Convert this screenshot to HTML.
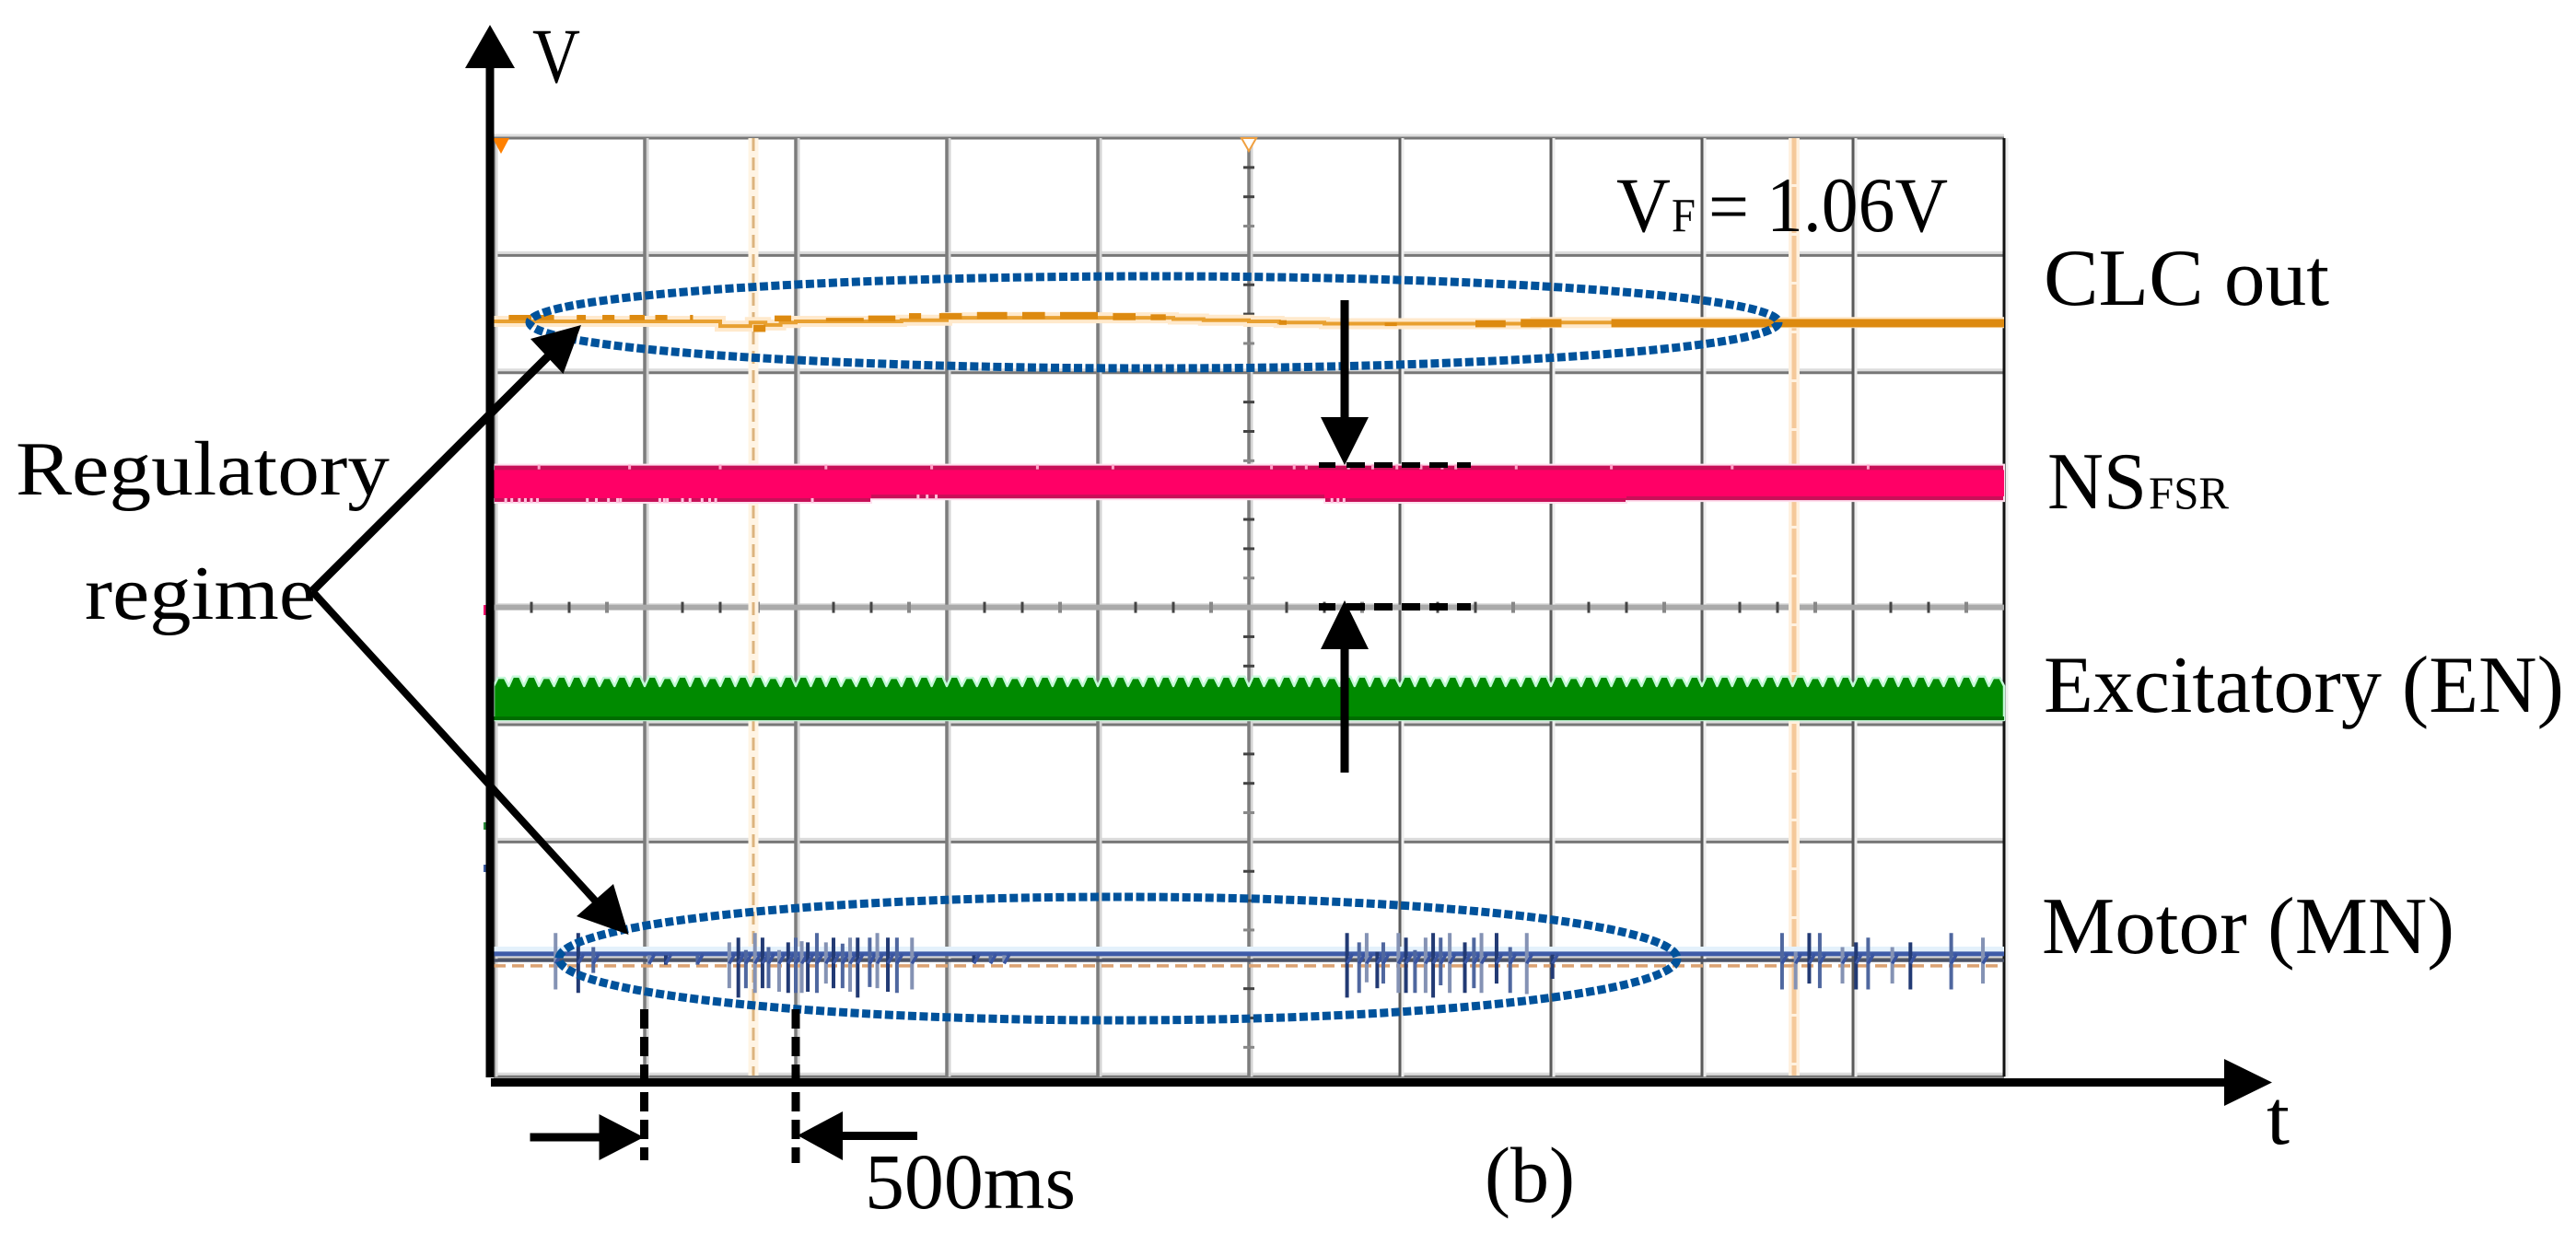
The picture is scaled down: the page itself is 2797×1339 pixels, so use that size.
<!DOCTYPE html>
<html>
<head>
<meta charset="utf-8">
<style>
html,body{margin:0;padding:0;background:#fff;}
svg{display:block;}
text{font-family:"Liberation Serif",serif;fill:#000;}
</style>
</head>
<body>
<svg id="chart" xmlns="http://www.w3.org/2000/svg" width="2797" height="1339" viewBox="0 0 2797 1339">
<rect width="2797" height="1339" fill="#fff"/>
<g id="grid"></g>
<g id="cursors">
<line x1="818" y1="150" x2="818" y2="1168" stroke="#fff4e4" stroke-width="11"/>
<line x1="818" y1="150" x2="818" y2="1168" stroke="#dcb47e" stroke-width="3" stroke-dasharray="14 7"/>
<line x1="1948" y1="150" x2="1948" y2="1168" stroke="#fff1e0" stroke-width="12"/>
<line x1="1948" y1="150" x2="1948" y2="1168" stroke="#f5c99a" stroke-width="5" stroke-dasharray="50 3"/>
</g>
<g id="traces"></g>
<polygon points="535,150 553,150 544,167" fill="#ff8000"/>
<polygon points="1348,150 1364,150 1356,164" fill="#fff" stroke="#f0a040" stroke-width="2"/>
<rect x="525" y="657" width="4" height="11" fill="#f0106a"/>
<rect x="525" y="893" width="3" height="8" fill="#2a8a3a"/>
<rect x="525" y="939" width="3" height="8" fill="#3a5aa0"/>

<ellipse cx="1253" cy="350" rx="678" ry="50" fill="none" stroke="#00529b" stroke-width="9" stroke-dasharray="9 3.5"/>
<ellipse cx="1214" cy="1041" rx="607" ry="67" fill="none" stroke="#00529b" stroke-width="9" stroke-dasharray="9 3.5"/>

<g>
<rect x="527.5" y="60" width="9" height="1110" fill="#000"/>
<polygon points="532,27 559,74 505,74" fill="#000"/>
<rect x="533" y="1171" width="1890" height="9" fill="#000"/>
<polygon points="2415,1150 2467,1175.5 2415,1201" fill="#000"/>
</g>

<g>
<rect x="1455.5" y="326" width="9" height="130" fill="#000"/>
<polygon points="1434,453 1486,453 1460,505" fill="#000"/>
<rect x="1455.5" y="700" width="9" height="139" fill="#000"/>
<polygon points="1434,705 1486,705 1460,652" fill="#000"/>
<line x1="1432" y1="505" x2="1597" y2="505" stroke="#000" stroke-width="6" stroke-dasharray="18 12 20 10 20 10 20 10 20 10 20 10"/>
<line x1="1432" y1="659" x2="1597" y2="659" stroke="#000" stroke-width="8" stroke-dasharray="18 12 20 10 20 10 20 10 20 10 20 10"/>
</g>

<g>
<line x1="339" y1="642" x2="596" y2="386" stroke="#000" stroke-width="9"/>
<polygon points="631,353 576,368 611.5,406" fill="#000"/>
<line x1="339" y1="642" x2="648" y2="980" stroke="#000" stroke-width="8"/>
<polygon points="682.5,1015 626,995 666,960" fill="#000"/>
</g>

<g>
<line x1="699.5" y1="1096" x2="699.5" y2="1260" stroke="#000" stroke-width="9" stroke-dasharray="21 9"/>
<line x1="864" y1="1096" x2="864" y2="1263" stroke="#000" stroke-width="9" stroke-dasharray="21 9"/>
<rect x="575.5" y="1230.5" width="76" height="9" fill="#000"/>
<polygon points="650.5,1210 699,1235 650.5,1260" fill="#000"/>
<rect x="914" y="1229" width="82" height="9" fill="#000"/>
<polygon points="915,1207 866,1233 915,1260" fill="#000"/>
</g>

<g>
<text x="578" y="89" font-size="85" textLength="52" lengthAdjust="spacingAndGlyphs">V</text>
<text x="2461" y="1242" font-size="85" textLength="25" lengthAdjust="spacingAndGlyphs">t</text>
<text x="17" y="537" font-size="84" textLength="406" lengthAdjust="spacingAndGlyphs">Regulatory</text>
<text x="92" y="672" font-size="84" textLength="251" lengthAdjust="spacingAndGlyphs">regime</text>
<text x="2219" y="331" font-size="88" textLength="310" lengthAdjust="spacingAndGlyphs">CLC out</text>
<text x="2223" y="552" font-size="88" textLength="108" lengthAdjust="spacingAndGlyphs">NS</text>
<text x="2333" y="552" font-size="50" textLength="87" lengthAdjust="spacingAndGlyphs">FSR</text>
<text x="2219" y="773" font-size="88" textLength="565" lengthAdjust="spacingAndGlyphs">Excitatory (EN)</text>
<text x="2217" y="1035" font-size="88" textLength="448" lengthAdjust="spacingAndGlyphs">Motor (MN)</text>
<text x="1755" y="251" font-size="85" textLength="59" lengthAdjust="spacingAndGlyphs">V</text>
<text x="1815" y="251" font-size="52" textLength="26" lengthAdjust="spacingAndGlyphs">F</text>
<text x="1855" y="251" font-size="80" textLength="44" lengthAdjust="spacingAndGlyphs">=</text>
<text x="1918" y="251" font-size="85" textLength="197" lengthAdjust="spacingAndGlyphs">1.06V</text>
<text x="939" y="1312" font-size="86" textLength="229" lengthAdjust="spacingAndGlyphs">500ms</text>
<text x="1612" y="1305" font-size="86" textLength="98" lengthAdjust="spacingAndGlyphs">(b)</text>
</g>
</svg>

<script>
// ---- values (time in divisions; amplitude in 1/100 division) ----
const gridColumns = [0,1,2,3,4,5,6,7,8,9,10];
const gridRows = [0,1,2,3,4,5,6,7,8];

const orangeLine = [0,0,0,0,0,0,0,0,0,0,0,0,0,0,0,-4,-4,-1,-3,-1,0,0,0,0,0,0,0,1,1,1,3,3,3,3,3,3,3,3,3,3,3,3,3,3,3,2,2,1,1,1,0,0,-1,-1,-1,-2,-2,-2,-2,-2,-2,-2,-2,-2,-2,-2,-2,-2,-2,-1,-1,-1,-1,-1,-1,-1,-1,-1,-1,-1,-1,-1,-1,-1,-1,-1,-1,-1,-1,-1,-1,-1,-1,-1,-1,-1,-1,-1,-1,-1,-1];
const orangeBlockStart = [0.1,0.28,0.55,0.72,0.9,1.07,1.3,1.72,1.86,2.2,2.48,2.75,2.95,3.2,3.5,3.75,4.1,4.35,5.2,5.9,6.5,6.8,7.4,8.0];
const orangeBlockWidth = [0.15,0.12,0.06,0.08,0.1,0.08,0.02,0.08,0.11,0.25,0.18,0.08,0.15,0.2,0.15,0.25,0.15,0.1,0.05,0.08,0.2,0.27,1.0,2.0];
const orangeBlockTop = [5.5,5.5,5.5,5.5,5.5,5.5,5.5,-3,5,3,5,7,7,8,8,8,7,6,1,-1,1,2,2,2];
const orangeBlockBottom = [1,1,1,1,1,1,1,-9,0,0,0,2,2,2,2,2,1,1,-3,-4,-5,-5,-5,-5];

const pinkUpper = [16,16,16,16,16,16,16,16,16,16,16,16,16,16,16,16,16,16,16,16,16];
const pinkLower = [-16.5,-16.5,-16.5,-16.5,-16.5,-13.5,-13.5,-13.5,-13.5,-13.5,-13.5,-16.5,-16.5,-16.5,-16.5,-15,-15,-15,-15,-15,-15];
const pinkNotchesLower = [0.08,0.12,0.17,0.21,0.25,0.29,0.62,0.68,0.76,0.82,0.84,1.1,1.15,1.13,1.25,1.3,1.38,1.43,1.47,2.11,2.81,2.87,2.93,5.55,5.59,5.63];
const pinkNotchesUpper = [0.3,0.9,1.5,2.2,2.9,3.6,4.1,5.15,5.3,5.38,5.66,5.82,5.98,6.14,6.28,6.37,6.77,7.4,8.2,9.1];

const greenPeaks = [36,37,37,36,37,37,37,36,37,37,37,36,37,37,36,37,37,37,36,37,37,37,37,36,37,37,36,37,37,37,37,36,37,37,36,37,37,37,36,37,37,37,36,37,37,37,37,36,37,37,37,36,37,37,37,36,37,37,37,36,37,37,36,37,37,37,37,36,37,37,37,36,37,37,37,36,37,37,36,37,37,37,37,36,37,37,37,36,37,37,37,36,37,37,37,36,37,37,37,36];

const zeroTickDivisions = [0.25,0.5,0.75,1.25,1.5,1.75,2.25,2.5,2.75,3.25,3.5,3.75,4.25,4.5,4.75,5.25,5.5,5.75,6.25,6.5,6.75,7.25,7.5,7.75,8.25,8.5,8.75,9.25,9.5,9.75];
const centerTickDivisions = [0.25,0.5,0.75,1.25,1.5,1.75,2.25,2.5,2.75,3.25,3.5,3.75,4.25,4.5,4.75,5.25,5.5,5.75,6.25,6.5,6.75,7.25,7.5,7.75];

const motorTimes = [0.41,0.56,0.66,1.03,1.14,1.35,
 1.56,1.62,1.67,1.73,1.78,1.82,1.89,1.95,2.0,2.04,2.08,2.14,2.20,2.25,2.31,2.36,2.41,2.49,2.54,2.61,2.67,2.77,3.18,3.29,3.38,
 5.65,5.73,5.78,5.85,5.89,5.99,6.04,6.10,6.17,6.22,6.27,6.33,6.43,6.49,6.54,6.64,6.73,6.84,7.01,
 8.53,8.62,8.71,8.78,8.93,9.02,9.10,9.26,9.38,9.65,9.86];
const motorHigh = [21,21,9,2,2,2,
 13,17,6.5,21,17,9,6.5,13,17,14,13,21,13,17,12,17,17,17,21,17,17,17,2,2,2,
 21,13,21,5,13,21,17,6.5,17,21,17,21,13,17,21,21,9,21,2.6,
 21,5,21,21,9,13,17,9,13,21,17];
const motorLow = [-27,-30,-13,-6,-6,-6,
 -26,-34,-26,-30,-26,-26,-29,-30,-30,-30,-29,-30,-22,-26,-26,-29,-34,-25,-26,-29,-30,-27,-4,-4,-4,
 -34,-30,-21,-26,-22,-30,-30,-30,-30,-34,-23.5,-30,-30,-26,-30,-22,-30,-31,-18,
 -27,-27,-22,-26,-22,-27,-27,-22,-27,-27,-22];

// ---- axis functions ----
const NS = 'http://www.w3.org/2000/svg';
const xScale = t => 536 + 164 * t;
const rowScale = r => 150 + 127.4 * r;
const unit = 1.276;
const clcY = u => 349 - unit * u;
const pinkY = u => 525 - unit * u;
const greenY = u => 782 - unit * u;
const motorY = u => 1040 - unit * u;
const gridGroup = document.getElementById('grid');
const traceGroup = document.getElementById('traces');

function mk(parent, tag, attrs) {
  const el = document.createElementNS(NS, tag);
  for (const k in attrs) el.setAttribute(k, attrs[k]);
  parent.appendChild(el);
  return el;
}

// grid
gridRows.forEach(r => {
  const shade = mk(gridGroup, 'line', {x1: xScale(0), x2: xScale(10), y1: rowScale(r) - 3, y2: rowScale(r) - 3, stroke: '#dcdcdc', 'stroke-width': 3});
  
  
  const line = mk(gridGroup, 'line', {x1: xScale(0), x2: xScale(10), y1: rowScale(r), y2: rowScale(r), stroke: '#777', 'stroke-width': 3});
  
  
});
gridColumns.forEach(c => {
  const shade = mk(gridGroup, 'line', {x1: xScale(c) + 3, x2: xScale(c) + 3, y1: rowScale(0), y2: rowScale(8), stroke: c < 6 ? '#d4d4d4' : '#eeeeee', 'stroke-width': 3});
  
  
  const line = mk(gridGroup, 'line', {x1: xScale(c), x2: xScale(c), y1: rowScale(0), y2: rowScale(8), stroke: c === 10 ? '#111' : (c < 6 ? '#7c7c7c' : '#5a5a5a'), 'stroke-width': c < 6 ? 3.5 : 3});
  
  
});
const zeroLine = mk(gridGroup, 'line', {x1: xScale(0), x2: xScale(10), y1: rowScale(4), y2: rowScale(4), stroke: '#aaaaaa', 'stroke-width': 6});


zeroTickDivisions.forEach((d, i) => {
  const tick = mk(gridGroup, 'line', {x1: xScale(d), x2: xScale(d), y1: rowScale(4) - 6, y2: rowScale(4) + 6, stroke: i % 3 === 2 ? '#888' : '#444', 'stroke-width': i % 3 === 2 ? 4 : 3});
  
  
});
centerTickDivisions.forEach((d, i) => {
  const tick = mk(gridGroup, 'line', {x1: xScale(5) - 6, x2: xScale(5) + 6, y1: rowScale(d), y2: rowScale(d), stroke: i % 3 === 2 ? '#888' : '#444', 'stroke-width': 3});
  
  
});

// step-band path helper: upper array then lower array, evenly spaced over 0..10 divisions
function bandPoints(upper, lower, yFn) {
  const dt = 10 / (upper.length - 1);
  const pts = [];
  upper.forEach((v, i) => {
    const t0 = i * dt, t1 = Math.min(10, t0 + dt);
    pts.push(xScale(t0) + ',' + yFn(v), xScale(t1) + ',' + yFn(v));
  });
  for (let i = lower.length - 1; i >= 0; i--) {
    const t0 = i * dt, t1 = Math.min(10, t0 + dt);
    pts.push(xScale(t1) + ',' + yFn(lower[i]), xScale(t0) + ',' + yFn(lower[i]));
  }
  return pts.join(' ');
}

// CLC out trace: thin stepped line with darker sample blocks
const clcStep = [];
orangeLine.forEach((v, i) => {
  const t0 = i * 0.1, t1 = Math.min(10, t0 + 0.1);
  clcStep.push(xScale(t0) + ',' + clcY(v), xScale(t1) + ',' + clcY(v));
});
const clcGlow = mk(traceGroup, 'polyline', {points: clcStep.join(' '), fill: 'none', stroke: '#ffe9cc', 'stroke-width': 12});


const clcLine = mk(traceGroup, 'polyline', {points: clcStep.join(' '), fill: 'none', stroke: '#e8a030', 'stroke-width': 4});


orangeBlockStart.forEach((t, i) => {
  const block = mk(traceGroup, 'rect', {x: xScale(t), width: orangeBlockWidth[i] * 164, y: clcY(orangeBlockTop[i]), height: clcY(orangeBlockBottom[i]) - clcY(orangeBlockTop[i]), fill: '#dd8a10'});
  
  
});

// NS FSR pink trace
const pinkFringe = mk(traceGroup, 'polygon', {points: bandPoints(pinkUpper, pinkLower, pinkY), fill: '#c80f58', stroke: '#ffe0ee', 'stroke-width': 2});


const pinkCore = mk(traceGroup, 'polygon', {points: bandPoints(pinkUpper.map(v => v - 4.5), pinkLower.map(v => v + 4), pinkY), fill: '#ff0066'});


pinkNotchesLower.forEach(t => {
  const i = Math.floor(t / 0.5);
  const n = mk(traceGroup, 'line', {x1: xScale(t), x2: xScale(t), y1: pinkY(pinkLower[i] + 4), y2: pinkY(pinkLower[i]), stroke: '#ffc0dc', 'stroke-width': 3});
  
  
});
pinkNotchesUpper.forEach(t => {
  const i = Math.floor(t / 0.5);
  const n = mk(traceGroup, 'line', {x1: xScale(t), x2: xScale(t), y1: pinkY(pinkUpper[i]), y2: pinkY(pinkUpper[i] - 4), stroke: '#ffa0c8', 'stroke-width': 3});
  
  
});

// Excitatory green trace
const greenPts = [];
const toothWidth = 10 / greenPeaks.length;
const valley = 29;
greenPts.push(xScale(0) + ',' + greenY(0));
greenPeaks.forEach((p, i) => {
  const t = i * toothWidth;
  greenPts.push(xScale(t) + ',' + greenY(valley));
  greenPts.push(xScale(t + toothWidth * 0.28) + ',' + greenY(p));
  greenPts.push(xScale(t + toothWidth * 0.72) + ',' + greenY(p));
});
greenPts.push(xScale(10) + ',' + greenY(valley));
greenPts.push(xScale(10) + ',' + greenY(0));
const greenBody = mk(traceGroup, 'polygon', {points: greenPts.join(' '), fill: '#008a00', stroke: '#c4f8d8', 'stroke-width': 2.5, 'stroke-linejoin': 'round'});


const greenEdge = mk(traceGroup, 'line', {x1: xScale(0), x2: xScale(10), y1: greenY(1.5), y2: greenY(1.5), stroke: '#006c00', 'stroke-width': 4});



// Motor trace
const motorHalo = mk(traceGroup, 'line', {x1: xScale(0), x2: xScale(10), y1: 1031, y2: 1031, stroke: '#e4f1fb', 'stroke-width': 6});


const motorTop = mk(traceGroup, 'line', {x1: xScale(0), x2: xScale(10), y1: motorY(3.2), y2: motorY(3.2), stroke: '#3f5ca8', 'stroke-width': 5});


const motorBase = mk(traceGroup, 'line', {x1: xScale(0), x2: xScale(10), y1: motorY(-2.4), y2: motorY(-2.4), stroke: '#4a5268', 'stroke-width': 3.5});


const motorRef = mk(traceGroup, 'line', {x1: xScale(0), x2: xScale(10), y1: motorY(-7), y2: motorY(-7), stroke: '#dba272', 'stroke-width': 3.5, 'stroke-dasharray': '13 7'});


motorTimes.forEach((t, i) => {
  const spike = mk(traceGroup, 'line', {x1: xScale(t), x2: xScale(t), y1: motorY(motorHigh[i]), y2: motorY(motorLow[i]), stroke: i % 3 === 1 ? '#223a74' : (i % 3 === 2 ? '#4f679f' : '#8492b4'), 'stroke-width': 4});
  
  
  const wiggle = mk(traceGroup, 'line', {x1: xScale(t), x2: xScale(t) + 6, y1: motorY(-5), y2: motorY(3), stroke: '#3a55a0', 'stroke-width': 3.5});
  
  
});
</script>
</body>
</html>
